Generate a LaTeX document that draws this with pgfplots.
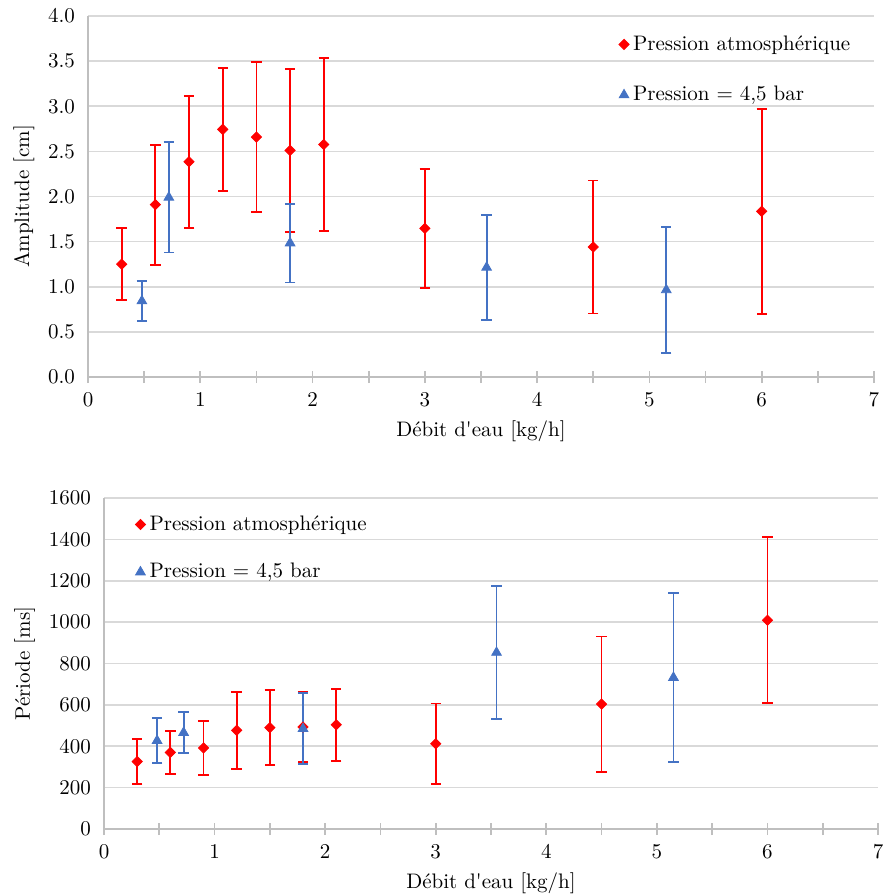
\documentclass[border=0pt]{standalone}
\usepackage{pgfplots}
\pgfplotsset{compat=1.18}
\usepackage{pgfplotstable}
\definecolor{xred}{RGB}{255,0,0}
\definecolor{xblue}{RGB}{68,114,196}
\definecolor{gridc}{RGB}{217,217,217}
\definecolor{axc}{RGB}{191,191,191}

\pgfplotstableread{
x y e
0.3 1.25 0.40
0.6 1.91 0.665
0.9 2.385 0.733
1.2 2.744 0.683
1.5 2.659 0.831
1.8 2.51 0.903
2.1 2.576 0.957
3.0 1.647 0.661
4.5 1.44 0.737
6.0 1.836 1.136
}\ampRed
\pgfplotstableread{
x y e
0.48 0.842 0.218
0.72 1.99 0.61
1.8 1.484 0.437
3.55 1.214 0.58
5.15 0.965 0.695
}\ampBlue
\pgfplotstableread{
x y e
0.3 326 110
0.6 370 104
0.9 392 130
1.2 477 187
1.5 490 182
1.8 493 171
2.1 504 174
3.0 412 195
4.5 604 327
6.0 1009 401
}\perRed
\pgfplotstableread{
x y e
0.48 427 108
0.72 466 100
1.8 485 172
3.55 853 322
5.15 732 407
}\perBlue

\pgfplotsset{
  mystyle/.style={
    scale only axis,
    xmin=0, xmax=7,
    xtick={0,1,...,7},
    minor x tick num=1,
    tick align=center,
    major tick length=6pt,
    minor tick length=6pt,
    x tick style={axc, line width=0.8pt},
    y tick style={draw=none},
    axis x line*=bottom,
    axis y line*=left,
    axis line style={-, axc, line width=0.8pt},
    ymajorgrids,
    major grid style={gridc, line width=0.8pt},
    /pgf/number format/assume math mode=true,
    tick label style={font=\fontsize{10.5}{12}\selectfont},
    label style={font=\fontsize{10.5}{12}\selectfont},
    xticklabel style={yshift=-1pt},
    legend style={draw=none, fill=none, font=\fontsize{10.5}{12}\selectfont, inner sep=0pt},
    legend cell align=left,
    clip=false,
  },
  redser/.style={only marks, color=xred, mark=square*, mark size=1.8pt, mark options={rotate=45, fill=xred, draw=xred},
    error bars/.cd, y dir=both, y explicit, error bar style={line width=0.9pt, xred},
    error mark options={xred, line width=0.9pt, mark size=2.6pt, rotate=90}},
  blueser/.style={only marks, color=xblue, mark=triangle*, mark size=2.8pt, mark options={fill=xblue, draw=xblue},
    error bars/.cd, y dir=both, y explicit, error bar style={line width=0.9pt, xblue},
    error mark options={xblue, line width=0.9pt, mark size=2.6pt, rotate=90}},
}

\begin{document}
\begin{tikzpicture}
\useasboundingbox (0,0) rectangle (442pt,-447pt);
\begin{axis}[mystyle,
  at={(44pt,-188.5pt)}, anchor=south west,
  width=393pt, height=180.5pt,
  ymin=0, ymax=4, ytick distance=0.5,
  yticklabel style={/pgf/number format/.cd, fixed, fixed zerofill, precision=1},
  xlabel={Débit d\textquotesingle eau [kg/h]},
  ylabel={Amplitude [cm]},
  legend style={at={(0.675,0.958)}, anchor=north west, row sep=12.5pt},
]
\addplot+[redser] table[x=x, y=y, y error=e] {\ampRed};
\addlegendentry{Pression atmosphérique}
\addplot+[blueser] table[x=x, y=y, y error=e] {\ampBlue};
\addlegendentry{Pression = 4,5 bar}
\end{axis}

\begin{axis}[mystyle,
  at={(52pt,-414.5pt)}, anchor=south west,
  width=387pt, height=165.5pt,
  ymin=0, ymax=1600, ytick distance=200,
  yticklabel style={/pgf/number format/.cd, 1000 sep={}},
  xlabel={Débit d\textquotesingle eau [kg/h]},
  ylabel={Période [ms]},
  legend style={at={(0.04,0.96)}, anchor=north west, row sep=11pt},
]
\addplot+[redser] table[x=x, y=y, y error=e] {\perRed};
\addlegendentry{Pression atmosphérique}
\addplot+[blueser] table[x=x, y=y, y error=e] {\perBlue};
\addlegendentry{Pression = 4,5 bar}
\end{axis}
\end{tikzpicture}
\end{document}
